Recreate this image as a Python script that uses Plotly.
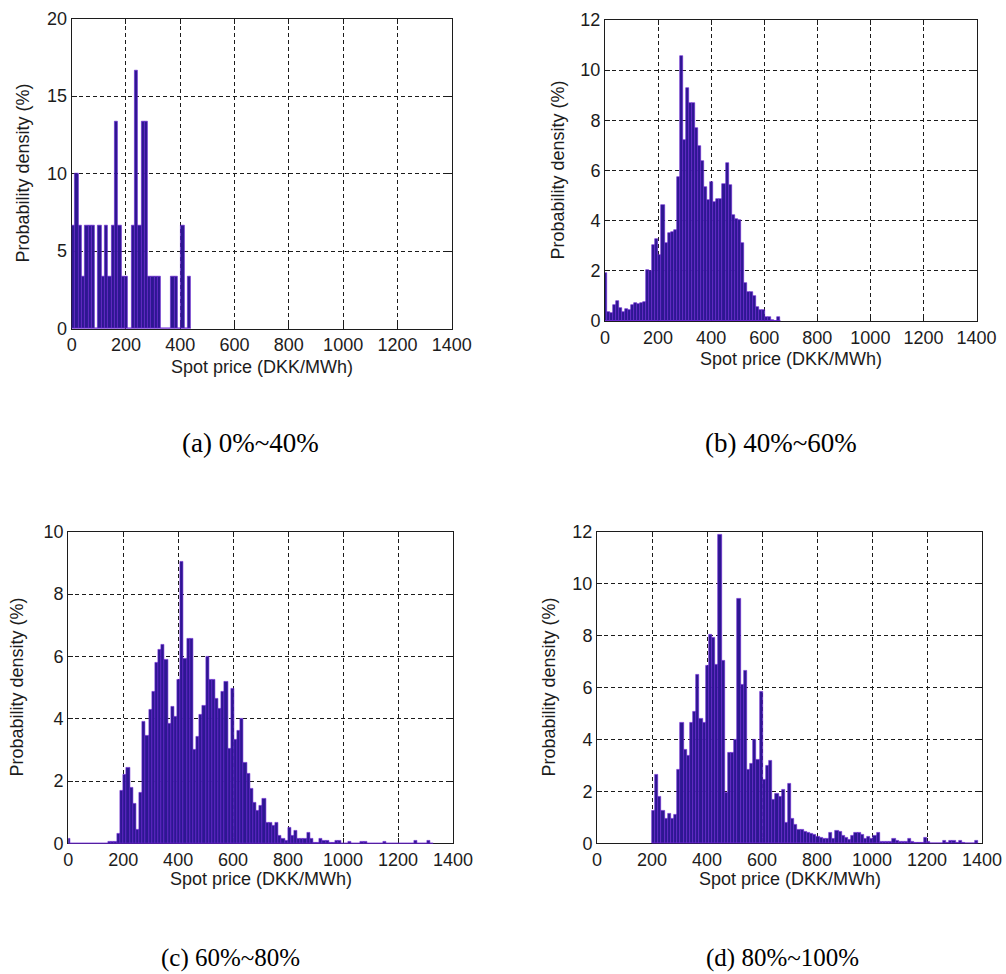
import plotly.graph_objects as go

# ---------------- data ----------------
# Panel (a) 0%~40%  : histogram, left edge of first bin and bin width
A_X0 = 0.0
A_BIN = 12.2
A_VALUES = [6.67, 10, 6.67, 3.33, 6.67, 6.67, 6.67, 0, 6.67, 3.33, 6.67, 3.33,
            6.67, 13.33, 6.67, 3.33, 3.33, 0, 6.67, 16.67, 6.67, 13.33, 13.33,
            3.33, 3.33, 3.33, 3.33, 0, 0, 0, 3.33, 3.33, 0, 6.67, 0, 3.33]

# Panel (b) 40%~60%
B_X0 = -5.75
B_BIN = 11.5
B_VALUES = [1.9, 0.37, 0.33, 0.64, 0.81, 0.5, 0.37, 0.47, 0.44, 0.64, 0.7, 0.68,
            0.73, 0.77, 2.03, 2.0, 3.03, 3.26, 2.63, 4.63, 3.1, 3.5, 3.55, 3.63,
            5.73, 10.57, 7.2, 9.28, 8.68, 8.68, 7.69, 6.96, 6.36, 5.36, 4.83, 5.56,
            4.76, 4.85, 4.85, 5.45, 6.29, 5.43, 4.23, 4.05, 4.03, 3.1, 1.5, 1.17,
            1.17, 1.0, 0.57, 0.44, 0.44, 0.17, 0.15, 0.05, 0, 0.17]

# Panel (c) 60%~80%
C_X0 = -5.75
C_BIN = 11.5
C_VALUES = [0.15, 0, 0, 0, 0, 0, 0, 0, 0, 0, 0, 0, 0,
            0.06, 0.06, 0.06, 0.3, 1.7, 2.2, 2.43, 1.8, 1.28, 0.43, 1.63, 3.9,
            3.44, 4.3, 4.87, 5.8, 6.22, 6.36, 5.9, 3.85, 4.38, 4.06, 5.24, 9.04,
            5.94, 6.56, 6.56, 3.02, 3.42, 4.14, 4.42, 5.99, 5.24, 5.24, 4.65, 4.33,
            4.87, 5.19, 3.05, 4.95, 3.32, 3.6, 4.0, 2.58, 2.23, 1.75, 1.32, 1.05,
            1.21, 1.42, 0.68, 0.68, 0.57, 0.68, 0.25, 0.14, 0.09, 0.5, 0.25, 0.4,
            0.14, 0.14, 0.14, 0.35, 0.14, 0.03, 0.03, 0.14, 0.1, 0.1, 0.03, 0.03,
            0.08, 0.08, 0, 0, 0.05, 0, 0, 0, 0.05, 0.05, 0, 0, 0, 0, 0, 0.05,
            0, 0, 0, 0, 0, 0, 0, 0, 0, 0.1, 0, 0, 0, 0.1, 0]

# Panel (d) 80%~100%
D_X0 = 200.0
D_BIN = 11.5
D_VALUES = [1.25, 2.66, 1.8, 1.25, 0.96, 1.13, 0.96, 1.09, 2.85, 4.65, 3.6, 3.36,
            4.65, 5.07, 6.48, 4.81, 4.65, 6.83, 8.02, 7.9, 6.87, 11.9, 7.03, 1.93,
            3.49, 3.49, 4.0, 9.41, 6.12, 6.64, 2.85, 3.08, 3.98, 3.21, 5.82, 2.44,
            2.97, 3.2, 1.69, 1.9, 1.8, 2.05, 0.78, 2.3, 0.95,
            0.7, 0.53, 0.53, 0.45, 0.4, 0.38, 0.32, 0.25, 0.22, 0.19, 0.19, 0.42,
            0.19, 0.5, 0.45, 0.3, 0.22, 0.15, 0.3, 0.42, 0.4, 0.34, 0.19, 0.25,
            0.19, 0.29, 0.42, 0.06, 0.06, 0.06, 0.06, 0.19, 0.1, 0.06, 0.06, 0.06,
            0.17, 0.06, 0.02, 0.02, 0.02, 0.22, 0.06, 0, 0, 0, 0, 0.09, 0.02,
            0.09, 0.09, 0.02, 0.09, 0.02, 0, 0, 0, 0.1]

X_TICKS = [0, 200, 400, 600, 800, 1000, 1200, 1400]
X_MAX = 1400
Y_MAX = {"a": 20, "b": 12, "c": 10, "d": 12}
Y_STEP = {"a": 5, "b": 2, "c": 2, "d": 2}
CAPTIONS = {"a": "(a) 0%~40%", "b": "(b) 40%~60%",
            "c": "(c) 60%~80%", "d": "(d) 80%~100%"}
X_TITLE = "Spot price (DKK/MWh)"
Y_TITLE = "Probability density (%)"

HISTS = {"a": (A_X0, A_BIN, A_VALUES), "b": (B_X0, B_BIN, B_VALUES),
         "c": (C_X0, C_BIN, C_VALUES), "d": (D_X0, D_BIN, D_VALUES)}

# ---------------- layout / style ----------------
W_PX, H_PX = 1006, 974


def px(x, y):
    return x / W_PX, 1 - y / H_PX


# plot-area boxes in pixels: (x_left, x_right), (y_top, y_bottom)
BOXES = {
    "a": ((71.7, 451.7), (18.5, 328.5)),
    "b": ((605.0, 976.5), (20.0, 321.0)),
    "c": ((68.2, 453.0), (531.7, 843.4)),
    "d": ((597.0, 982.0), (531.7, 843.3)),
}
X_TITLE_Y = {"a": 367, "b": 359, "c": 879, "d": 879}
Y_TITLE_X = {"a": 22, "b": 557, "c": 17, "d": 548}
CAPTION_POS = {"a": (250, 443), "b": (781, 443), "c": (230, 958), "d": (782, 958)}
CAPTION_SIZE = {"a": 27, "b": 27, "c": 25, "d": 25}
FILL = "#2D1791"
EDGE = "#6A22D4"
INK = "#1c1c1c"
SANS = "Arial"
SERIF = "Times New Roman"

fig = go.Figure()
layout = dict(width=W_PX, height=H_PX, margin=dict(l=0, r=0, t=0, b=0, pad=0),
              paper_bgcolor="white", plot_bgcolor="white", showlegend=False,
              bargap=0, annotations=[], template="none")

for i, key in enumerate(["a", "b", "c", "d"]):
    n = "" if i == 0 else str(i + 1)
    x0, w, vals = HISTS[key]
    centers = [x0 + w * (j + 0.5) for j in range(len(vals))]
    fig.add_trace(go.Bar(x=centers, y=vals, width=w, xaxis="x" + n, yaxis="y" + n,
                         marker=dict(color=FILL, line=dict(color=EDGE, width=0.6)),
                         hoverinfo="skip"))
    # zero-height bins drawn as an edge line along the baseline
    fig.add_trace(go.Scatter(x=[max(0, x0), x0 + w * len(vals)], y=[0, 0],
                             xaxis="x" + n, yaxis="y" + n, mode="lines",
                             line=dict(color=EDGE, width=1.5), cliponaxis=False,
                             hoverinfo="skip"))
    (xl, xr), (yt, yb) = BOXES[key]
    common = dict(showgrid=True, gridcolor=INK, gridwidth=1, griddash="4px,3px",
                  showline=True, linecolor=INK, linewidth=1, mirror="ticks",
                  ticks="inside", ticklen=5, tickcolor=INK, zeroline=False,
                  layer="below traces", fixedrange=True, automargin=False,
                  tickfont=dict(family=SANS, size=18, color=INK))
    layout["xaxis" + n] = dict(common, domain=[xl / W_PX, xr / W_PX],
                               anchor="y" + n, range=[0, X_MAX],
                               tickvals=X_TICKS)
    ymax = Y_MAX[key]
    layout["yaxis" + n] = dict(common, domain=[1 - yb / H_PX, 1 - yt / H_PX],
                               anchor="x" + n, range=[0, ymax],
                               tickvals=list(range(0, ymax + 1, Y_STEP[key])))
    # axis titles
    cx, cy = px((xl + xr) / 2, X_TITLE_Y[key])
    layout["annotations"].append(dict(text=X_TITLE, x=cx, y=cy, xref="paper",
                                      yref="paper", showarrow=False,
                                      xanchor="center", yanchor="middle",
                                      font=dict(family=SANS, size=18, color=INK)))
    tx, ty = px(Y_TITLE_X[key], (yt + yb) / 2)
    layout["annotations"].append(dict(text=Y_TITLE, x=tx, y=ty, xref="paper",
                                      yref="paper", showarrow=False, textangle=-90,
                                      xanchor="center", yanchor="middle",
                                      font=dict(family=SANS, size=18, color=INK)))
    # caption
    kx, ky = px(*CAPTION_POS[key])
    layout["annotations"].append(dict(text=CAPTIONS[key], x=kx, y=ky, xref="paper",
                                      yref="paper", showarrow=False,
                                      xanchor="center", yanchor="middle",
                                      font=dict(family=SERIF, size=CAPTION_SIZE[key],
                                                color="black")))

fig.update_layout(**layout)
fig.write_html("out.html", config={"displayModeBar": False},
               post_script="document.body.style.margin='0px';"
                           "document.body.style.overflow='hidden';")
